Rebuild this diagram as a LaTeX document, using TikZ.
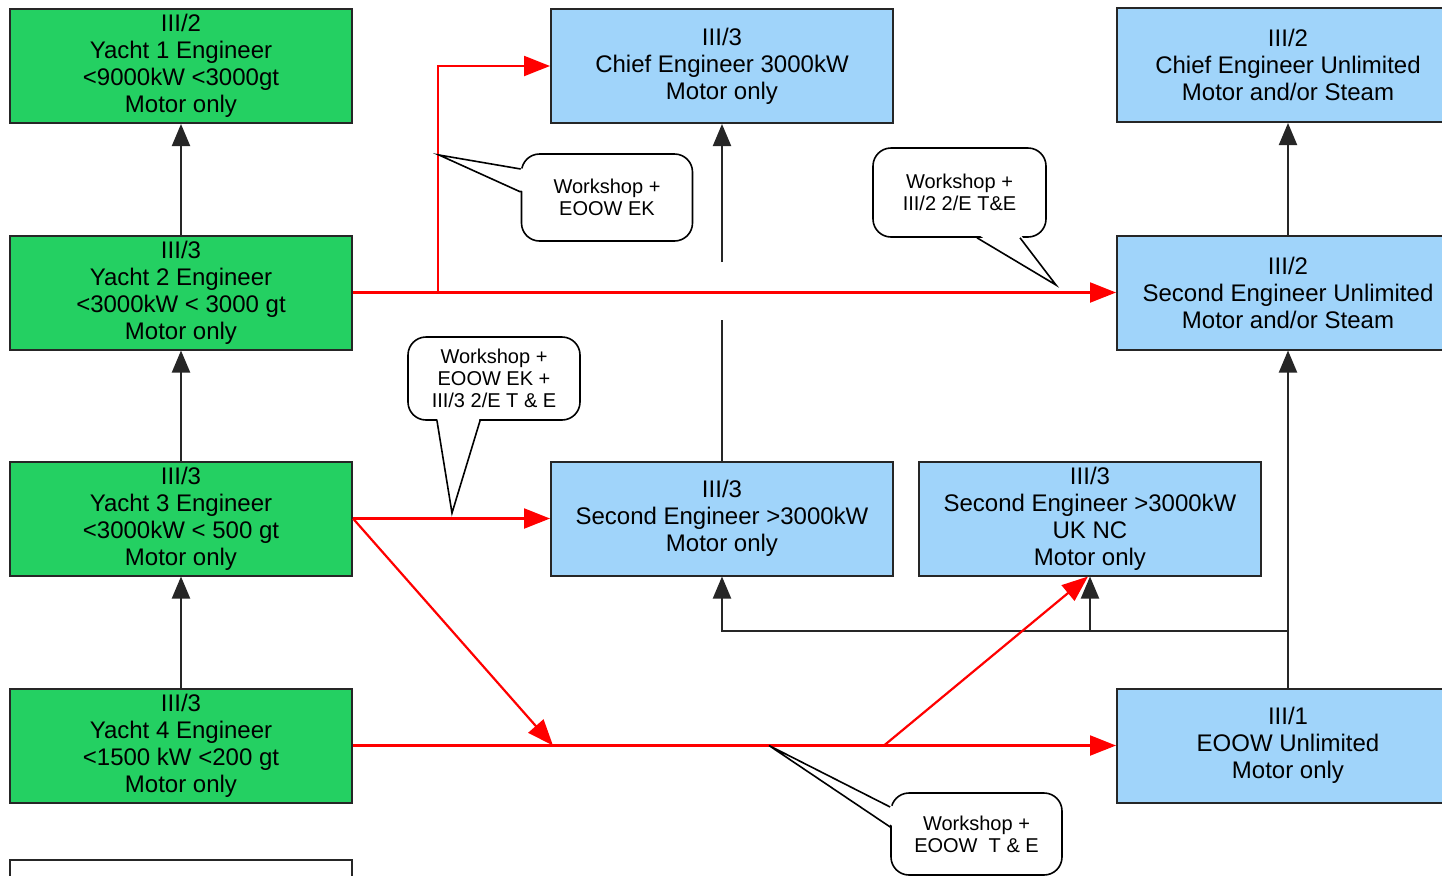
\documentclass[tikz,border=0pt]{standalone}
\usepackage{fontspec}
\setmainfont{Liberation Sans}
\usetikzlibrary{arrows.meta,calc}
\definecolor{gfill}{RGB}{36,208,98}
\definecolor{bfill}{RGB}{160,212,250}
\begin{document}
\begin{tikzpicture}[x=0.5pt,y=-0.5pt,
 nbox/.style={draw=black!85, line width=1pt, minimum width=171pt, minimum height=57pt, inner sep=0pt, align=center, font=\fontsize{12}{13.5}\selectfont},
 gbox/.style={nbox, fill=gfill},
 bbox/.style={nbox, fill=bfill},
 callout/.style={draw, line width=0.8pt, fill=white, rounded corners=9pt, inner sep=0pt, align=center, font=\fontsize{10}{11}\selectfont},
 blk/.style={draw=black!85, line width=1pt},
 blkarr/.style={blk, -{Triangle[width=9pt,length=11pt]}},
 redl/.style={draw=red, line width=1.1pt},
 redarr/.style={redl, -{Triangle[width=10pt,length=13pt]}},
 ptr/.style={draw, line width=0.8pt, line join=miter},
]
\useasboundingbox (0,0) rectangle (1442,875);
\clip (0,0) rectangle (1442,875);
\fill[white] (0,0) rectangle (1442,875);

% green boxes
\node[gbox] (g1) at (181,66) {III/2\\Yacht 1 Engineer\\<9000kW <3000gt\\Motor only};
\node[gbox] (g2) at (181,292.5) {III/3\\Yacht 2 Engineer\\<3000kW < 3000 gt\\Motor only};
\node[gbox] (g3) at (181,518.5) {III/3\\Yacht 3 Engineer\\<3000kW < 500 gt\\Motor only};
\node[gbox] (g4) at (181,745.5) {III/3\\Yacht 4 Engineer\\<1500 kW <200 gt\\Motor only};
\node[nbox, fill=white] (g5) at (181,917) {};

% blue boxes
\node[bbox] (b1) at (722,66) {III/3\\Chief Engineer 3000kW\\Motor only};
\node[bbox] (b2) at (1288,65) {III/2\\Chief Engineer Unlimited\\Motor and/or Steam};
\node[bbox] (b3) at (1288,292.5) {III/2\\Second Engineer Unlimited\\Motor and/or Steam};
\node[bbox] (b4) at (722,518.5) {III/3\\Second Engineer >3000kW\\Motor only};
\node[bbox] (b5) at (1090,518.5) {III/3\\Second Engineer >3000kW\\UK NC\\Motor only};
\node[bbox] (b6) at (1288,745.5) {III/1\\EOOW Unlimited\\Motor only};

% black connectors
\draw[blkarr] (g2.north) -- (g1.south);
\draw[blkarr] (g3.north) -- (g2.south);
\draw[blkarr] (g4.north) -- (g3.south);
\draw[blkarr] (b3.north) -- (b2.south);
\draw[blkarr] (b6.north) -- (b3.south);
\coordinate (j1) at (1288,631);
\coordinate (j2) at (1090,631);
\draw[blkarr] (j1) -| (b4.south);
\draw[blkarr] (j2) -- (b5.south);
\coordinate (k1) at (722,320);
\coordinate (k2) at (722,262);
\draw[blk] (b4.north) -- (k1);
\draw[blkarr] (k2) -- (b1.south);

% red connectors
\coordinate (r1) at (438,292.5);
\draw[redarr] (g2.east) -- (b3.west);
\draw[redarr] (r1) |- (b1.west);
\draw[redarr] (g3.east) -- (b4.west);
\coordinate (r2) at (553,745.5);
\draw[redarr] (g3.east) -- (r2);
\draw[redarr] (g4.east) -- (b6.west);
\coordinate (r3) at (884,745.5);
\draw[redarr] (r3) -- ([xshift=-1pt]b5.south);

% callouts
\node[callout, minimum width=85.5pt, minimum height=43.5pt] (c1) at (607,197.5) {Workshop +\\EOOW EK};
\node[callout, minimum width=86.5pt, minimum height=44.5pt] (c2) at (959.5,192.5) {Workshop +\\III/2 2/E T\&E};
\node[callout, minimum width=86pt, minimum height=41.5pt] (c3) at (494,378.5) {Workshop +\\EOOW EK +\\III/3 2/E T \& E};
\node[callout, minimum width=85.5pt, minimum height=41pt] (c4) at (976.5,834) {Workshop +\\EOOW~~T \& E};

% pointers
\coordinate (t1) at (439,155);
\fill[white] (t1) -- ($(c1.west)+(4,-28.5)$) -- ($(c1.west)+(4,-5.5)$) -- cycle;
\draw[ptr] ($(c1.west)+(0,-28.5)$) -- (t1) -- ($(c1.west)+(0,-5.5)$);

\coordinate (t2) at (1056,285);
\fill[white] (t2) -- ($(c2.south)+(17.5,-4)$) -- ($(c2.south)+(60.5,-4)$) -- cycle;
\draw[ptr] ($(c2.south)+(17.5,0)$) -- (t2) -- ($(c2.south)+(60.5,0)$);

\coordinate (t3) at (452,513);
\fill[white] (t3) -- ($(c3.south)+(-57,-4)$) -- ($(c3.south)+(-14,-4)$) -- cycle;
\draw[ptr] ($(c3.south)+(-57,0)$) -- (t3) -- ($(c3.south)+(-14,0)$);

\coordinate (t4) at (769,745.5);
\fill[white] (t4) -- ($(c4.west)+(4,-27)$) -- ($(c4.west)+(4,-7)$) -- cycle;
\draw[ptr] ($(c4.west)+(0,-27)$) -- (t4) -- ($(c4.west)+(0,-7)$);
\end{tikzpicture}
\end{document}
